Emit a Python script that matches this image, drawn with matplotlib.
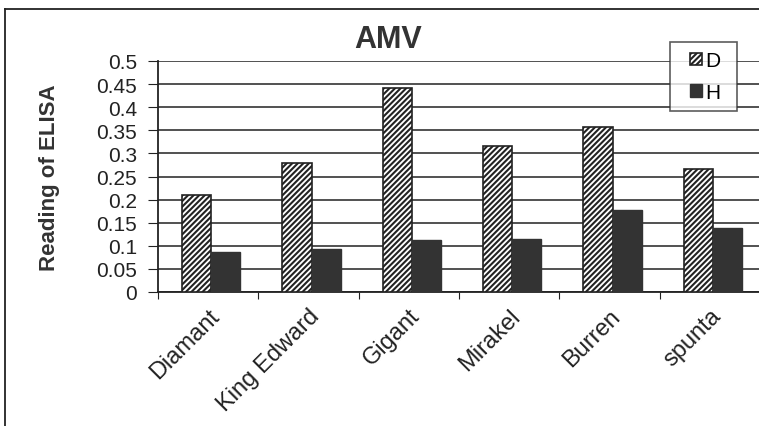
import numpy as np
import matplotlib.pyplot as plt
from matplotlib.lines import Line2D
from matplotlib.patches import Rectangle
from matplotlib.container import BarContainer
from matplotlib.legend_handler import HandlerPatch

plt.rcParams['font.family'] = ['Liberation Sans', 'DejaVu Sans']
plt.rcParams['hatch.linewidth'] = 1.5

# data
varieties = ['Diamant', 'King Edward', 'Gigant', 'Mirakel', 'Burren', 'spunta']
d_values = [0.21, 0.28, 0.442, 0.315, 0.358, 0.267]
h_values = [0.087, 0.092, 0.113, 0.115, 0.178, 0.138]
y_ticks = [0, 0.05, 0.1, 0.15, 0.2, 0.25, 0.3, 0.35, 0.4, 0.45, 0.5]

fig = plt.figure(figsize=(7.59, 4.27), dpi=100)
ax = fig.add_axes([158 / 759, 1 - 293 / 427, 602 / 759, 231 / 427])

x = np.arange(len(varieties))
w = 0.29
ax.bar(x - w / 2 + 0.03, d_values, w, color='white', edgecolor='#222222',
       hatch='//////', linewidth=1.2, label='D', zorder=3)
ax.bar(x + w / 2 + 0.03, h_values, w, color='#333333', edgecolor='#333333',
       linewidth=1.0, label='H', zorder=3)

ax.set_xlim(-0.5, len(varieties) - 0.5)
ax.set_ylim(0, 0.5)
ax.set_yticks(y_ticks)
ax.set_yticklabels([f'{v:g}' for v in y_ticks], fontsize=15, color='#222222')
ax.yaxis.grid(True, color='#222222', linewidth=1.1, zorder=0)
ax.set_axisbelow(True)

# category ticks sit on the boundaries
ax.set_xticks(np.arange(len(varieties) + 1) - 0.5, minor=False)
ax.set_xticklabels([])
ax.set_xticks(x, minor=True)
ax.set_xticklabels(varieties, minor=True, rotation=45, ha='right',
                   rotation_mode='anchor', fontsize=17, color='#222222')
ax.tick_params(axis='x', which='minor', length=0, pad=9)
ax.tick_params(axis='x', which='major', length=5, direction='out', color='#222222')
ax.tick_params(axis='y', length=7, direction='out', color='#222222', pad=8)

for s in ['top', 'right']:
    ax.spines[s].set_visible(False)
ax.spines['left'].set_color('#222222')
ax.spines['bottom'].set_color('#222222')
ax.spines['left'].set_linewidth(1.3)
ax.spines['bottom'].set_linewidth(1.3)

ax.set_ylabel('Reading of ELISA', fontsize=16, fontweight='bold', color='#333333')
ax.yaxis.set_label_coords((60 - 158) / 602, 0.5)
fig.text(388 / 759, 1 - 40 / 427, 'AMV', ha='center', va='center',
         fontsize=22, fontweight='bold', color='#333333')


# small square legend keys sitting at the right of the handle slot
def small_key(legend, orig_handle, xdescent, ydescent, width, height, fontsize):
    s = height * 0.95
    return Rectangle((width - s - xdescent, -ydescent + (height - s) / 2), s, s)


def from_first_bar(tgt, src):
    tgt.update_from(src.patches[0])


leg = ax.legend(loc='upper left', bbox_to_anchor=(670 / 759, 1 - 43 / 427),
                bbox_transform=fig.transFigure, fontsize=15, frameon=True,
                fancybox=False, edgecolor='#333333', handlelength=1.1,
                handleheight=0.6, handletextpad=0.2, borderpad=0.45,
                labelspacing=0.6, borderaxespad=0,
                handler_map={BarContainer: HandlerPatch(patch_func=small_key,
                                                        update_func=from_first_bar)})
leg.get_frame().set_linewidth(1.2)
for t in leg.get_texts():
    t.set_text(t.get_text() + ' ')

# outer frame of the scanned chart
fig.add_artist(Line2D([5 / 759, 5 / 759], [0, 1 - 10 / 427], transform=fig.transFigure,
                      color='#222222', linewidth=1.3))
fig.add_artist(Line2D([5 / 759, 1], [1 - 10 / 427, 1 - 10 / 427], transform=fig.transFigure,
                      color='#222222', linewidth=1.3))

fig.savefig('out.png', dpi=100)
